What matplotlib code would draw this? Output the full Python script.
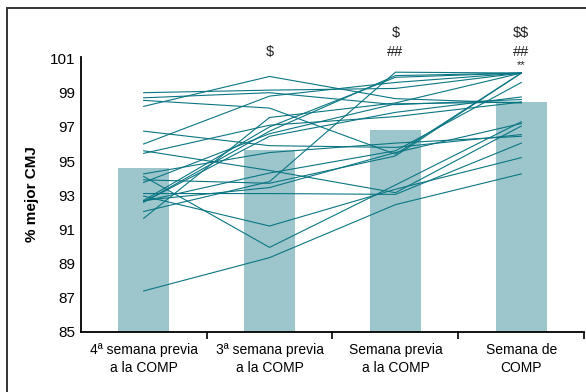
import matplotlib.pyplot as plt
from matplotlib.patches import Rectangle

plt.rcParams['font.family'] = ['Liberation Sans', 'DejaVu Sans']

categorias = ['4ª semana previa\na la COMP', '3ª semana previa\na la COMP',
              'Semana previa\na la COMP', 'Semana de\nCOMP']
media = [94.58, 95.62, 96.8, 98.44]

# % of best CMJ for each athlete, one list per time point
sem4 = [87.4, 94.1, 92.95, 99.0, 98.2, 98.55, 96.0, 98.7, 96.75, 95.6, 95.45,
        94.25, 93.9, 93.75, 93.1, 92.7, 92.7, 92.6, 92.65, 92.6, 92.05, 91.65]
sem3 = [89.35, 89.95, 91.2, 99.15, 99.95, 98.1, 98.8, 99.0, 95.9, 94.45, 97.1,
        95.5, 93.7, 96.6, 93.1, 93.45, 97.0, 96.45, 94.3, 96.75, 93.8, 97.55]
sem1 = [92.45, 93.6, 93.35, 99.25, 98.65, 95.4, 99.6, 98.3, 95.8, 93.15, 97.6,
        96.05, 95.3, 98.35, 93.05, 95.5, 99.9, 97.85, 95.6, 100.0, 100.2, 98.4]
comp = [94.25, 97.3, 95.2, 100.15, 98.4, 100.15, 100.15, 98.6, 96.55, 97.05, 98.45,
        96.45, 100.15, 98.45, 96.05, 97.2, 100.15, 98.75, 99.6, 100.15, 100.15, 100.15]

# significance marks: (time point, text, height)
marcas = [(1, '$', 101.4), (2, '$', 102.5), (2, '##', 101.4),
          (3, '$$', 102.5), (3, '##', 101.4), (3, '**', 100.62)]

fig = plt.figure(figsize=(5.86, 3.92), dpi=100)
ax = fig.add_axes([0.1377, 0.1531, 0.8594, 0.702])

x = range(len(categorias))
ax.bar(x, media, width=0.405, color='#9cc6cc', zorder=1)

for vals in zip(sem4, sem3, sem1, comp):
    ax.plot(x, vals, color='#0b7683', linewidth=0.8, zorder=2)

for i, m, h in marcas:
    fs = 8 if m == '**' else 10.5
    ax.text(i, h, m, ha='center', va='center', fontsize=fs, color='#222222',
            clip_on=False, parse_math=False)

ax.set_ylim(85, 101.1)
ax.set_xlim(-0.5, 3.5)
ax.set_yticks(range(85, 102, 2))
ax.set_xticks(list(x))
ax.set_xticklabels(categorias, fontsize=10, linespacing=1.35)
ax.set_xticks([0.5, 1.5, 2.5, 3.5], minor=True)
ax.tick_params(axis='x', which='major', length=0, pad=8)
ax.tick_params(axis='x', which='minor', length=5, width=1.2, direction='out')
ax.tick_params(axis='y', length=0, pad=4, labelsize=11)

for s in ['top', 'right']:
    ax.spines[s].set_visible(False)
ax.spines['left'].set_linewidth(1.3)
ax.spines['bottom'].set_linewidth(1.3)

ax.set_ylabel('% mejor CMJ', fontsize=11, fontweight='bold')
ax.yaxis.set_label_coords(-0.082, 0.5)

# outer frame
fig.patches.append(Rectangle((0.012, -0.1), 1.2, 1.08, transform=fig.transFigure,
                             fill=False, edgecolor='#333333', linewidth=1.4))

fig.savefig('out.png', dpi=100)
